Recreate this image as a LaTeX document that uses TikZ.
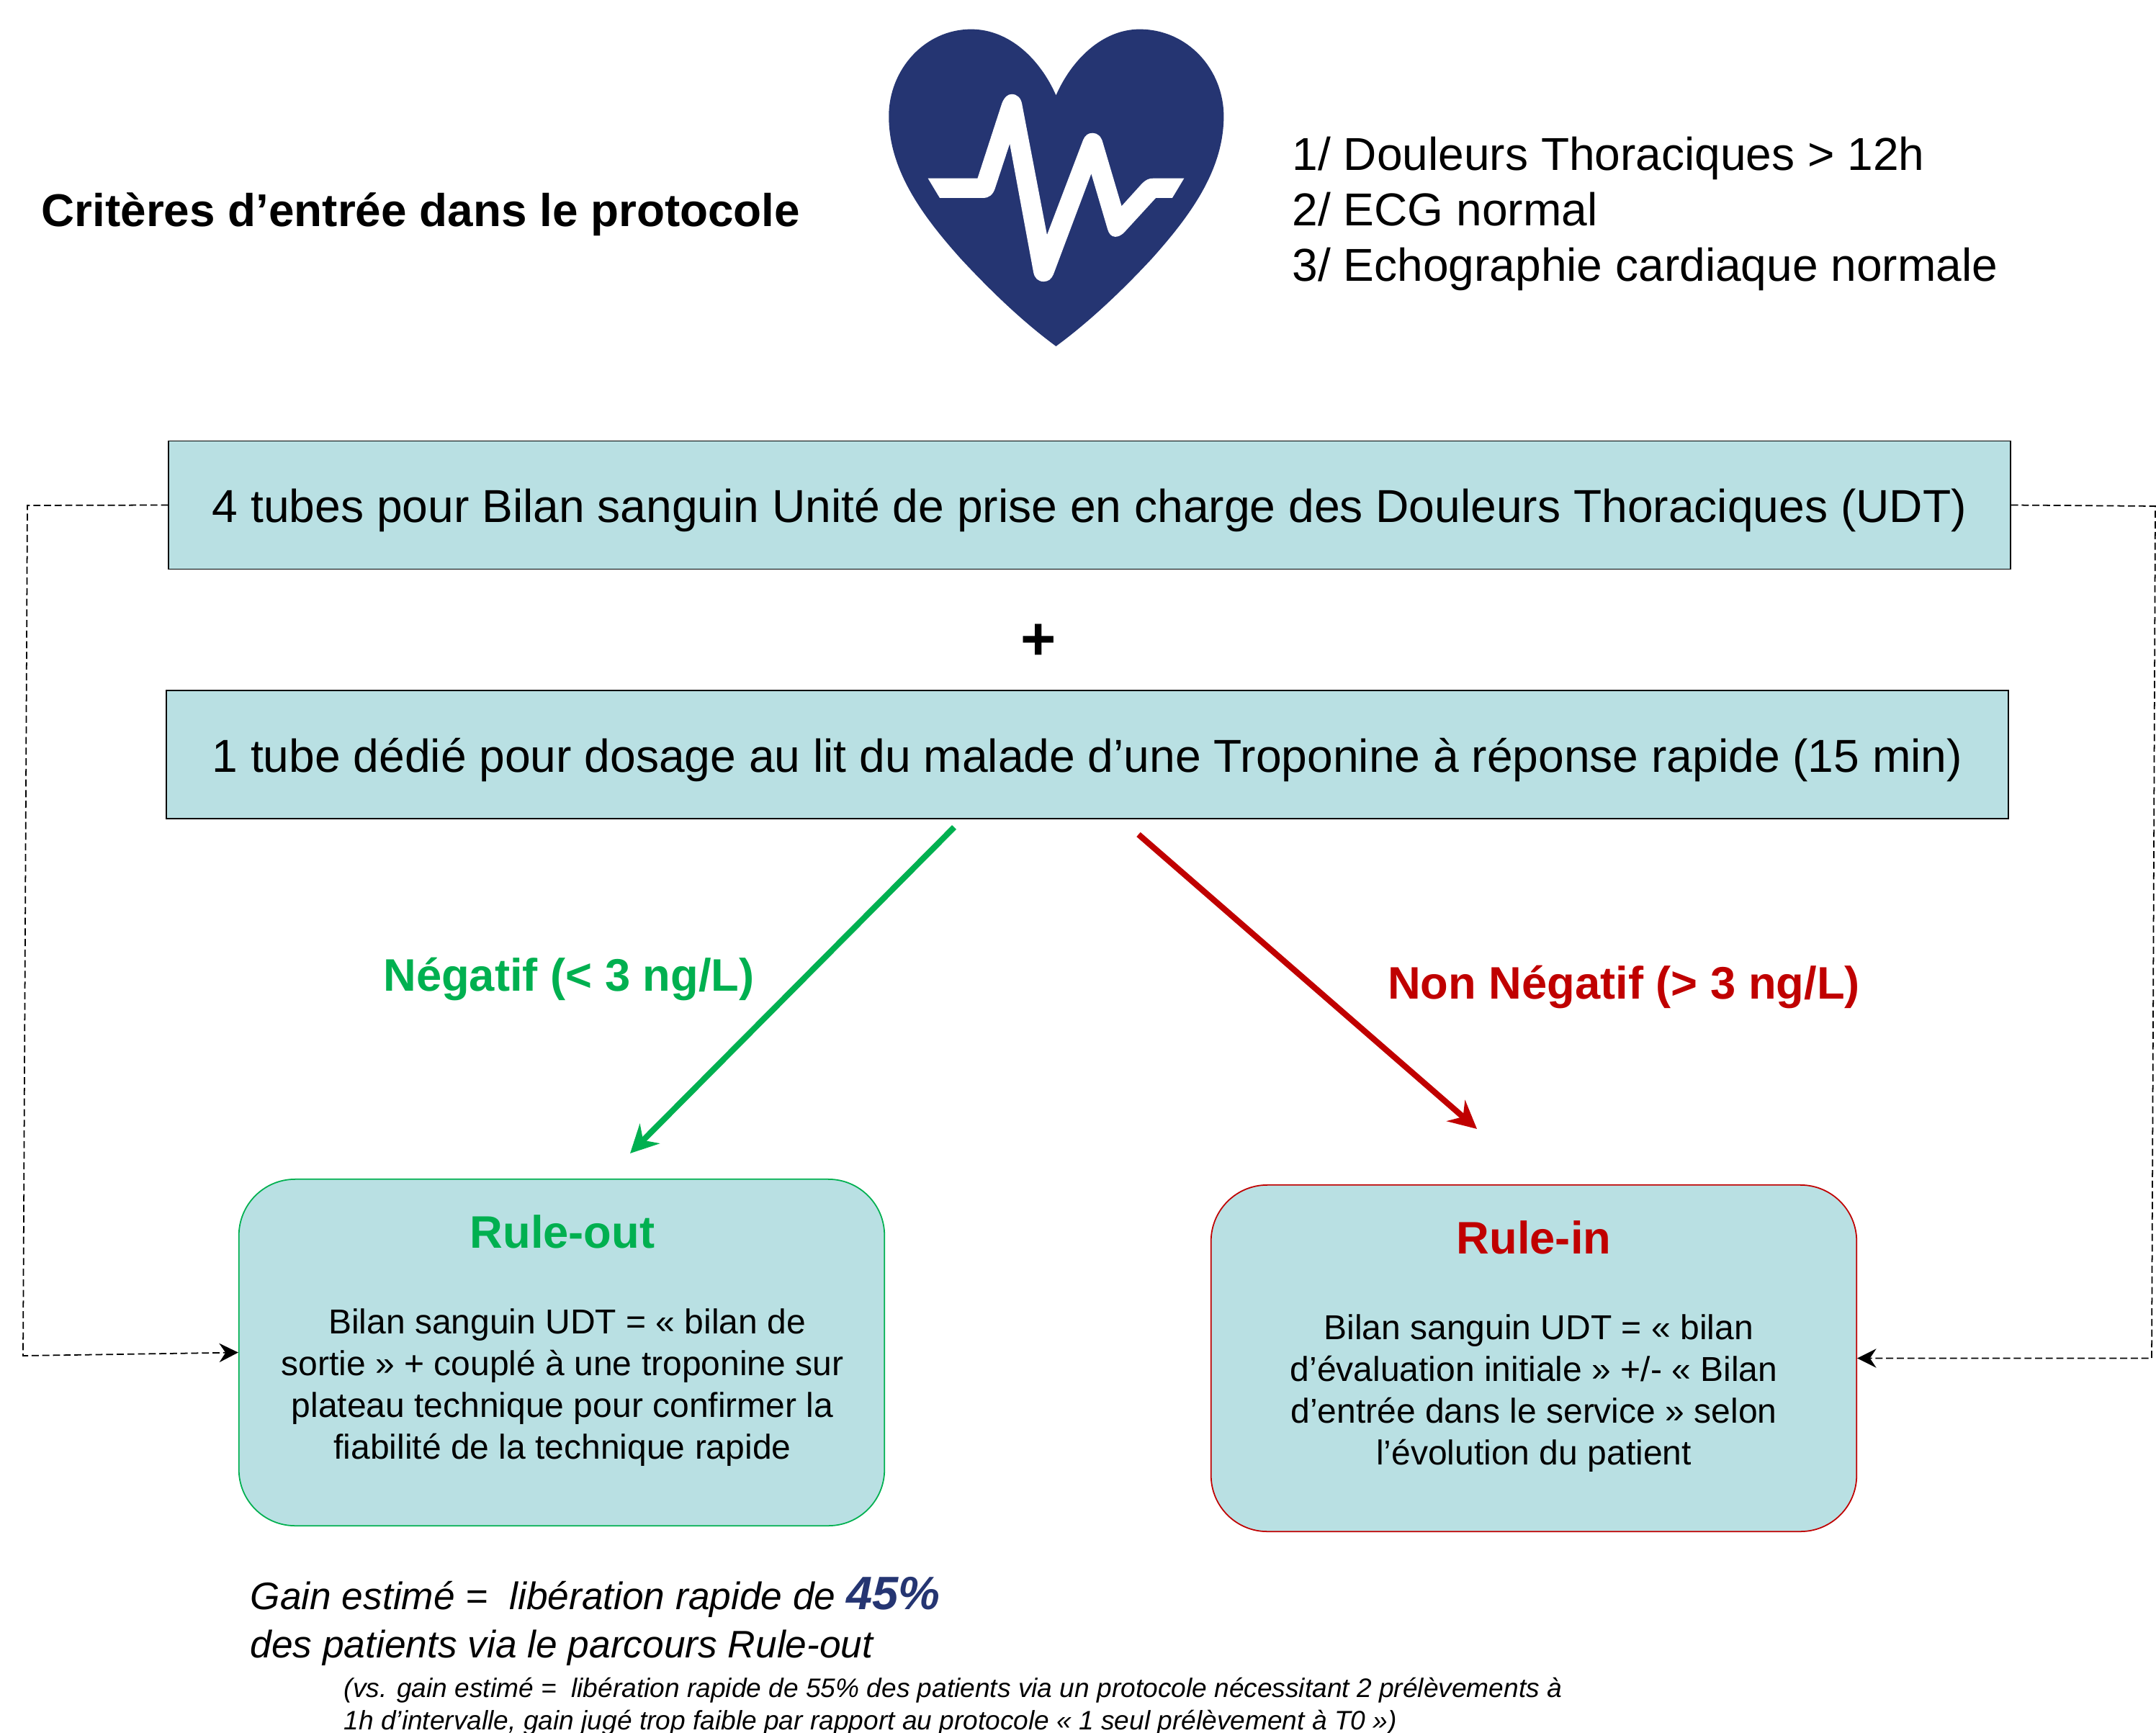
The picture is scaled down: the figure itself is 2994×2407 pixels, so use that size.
\documentclass[tikz,border=0pt]{standalone}
\usepackage{fontspec}
\setmainfont{Liberation Sans}
\usetikzlibrary{arrows.meta}
\definecolor{bleuboite}{HTML}{B9E0E3}
\definecolor{bleucoeur}{HTML}{253572}
\definecolor{vertout}{HTML}{00B050}
\definecolor{rougein}{HTML}{C00000}
\tikzset{
	tube/.style={draw=black, line width=0.5pt, fill=bleuboite, inner sep=0pt, minimum width=25.56cm, minimum height=1.78cm, text height=18.4pt, text depth=4.6pt, font=\fontsize{18.25}{23}\selectfont},
	parcours/.style={line width=0.5pt, fill=bleuboite, inner sep=0pt, rounded corners=0.78cm, minimum width=8.96cm, minimum height=4.81cm},
	titreparcours/.style={font=\fontsize{18}{21}\selectfont\bfseries},
	corps/.style={align=center, font=\fontsize{13.65}{16.45}\selectfont},
	retour/.style={dash pattern=on 2.8pt off 1.4pt, line width=0.5pt, -{Stealth[length=7.5pt, width=7.5pt, inset=2.5pt]}},
	verdict/.style={line width=2.35pt, -{Stealth[length=11pt, width=11pt, inset=3.7pt]}}
}
\begin{document}
\begin{tikzpicture}[x=0.01cm, y=-0.01cm] %Coordonnees en pixels de l'image
	\useasboundingbox (0,0) rectangle (2994,2407);
	%En-tete
	\node[anchor=west, inner sep=0pt, font=\fontsize{18.15}{21}\selectfont\bfseries] (titre) at (57,298) {Critères d’entrée dans le protocole};
	\node[anchor=west, inner sep=0pt, align=left, font=\fontsize{18.22}{21.9}\selectfont] (criteres) at (1794,297) {1/ Douleurs Thoraciques > 12h\\2/ ECG normal\\3/ Echographie cardiaque normale};
	%Coeur
	\begin{scope}[shift={(11.8cm,-0.2cm)}, x=0.0035714cm, y=-0.003333cm]
		\fill[bleucoeur] (800,338) .. controls (740,190) and (620,62) .. (470,62) .. controls (290,62) and (150,230) .. (150,425)
			.. controls (150,650) and (280,840) .. (430,1020) .. controls (560,1170) and (680,1290) .. (800,1385)
			.. controls (920,1290) and (1042,1170) .. (1172,1020) .. controls (1322,840) and (1452,650) .. (1452,425)
			.. controls (1452,230) and (1312,62) .. (1125,62) .. controls (980,62) and (860,190) .. (800,338) -- cycle;
		\fill[white] (302,684) -- (495,684) -- (590,370) .. controls (600,345) and (612,333) .. (628,333) .. controls (650,333) and (664,350) .. (668,375)
			-- (765,920) -- (905,525) .. controls (912,505) and (925,495) .. (942,495) .. controls (962,495) and (976,510) .. (982,535)
			-- (1055,800) -- (1135,705) .. controls (1150,690) and (1160,684) .. (1180,684) -- (1298,684) -- (1252,766) -- (1188,766)
			-- (1065,910) .. controls (1050,925) and (1040,928) .. (1030,928) .. controls (1015,928) and (1005,915) .. (1000,895)
			-- (937,665) -- (790,1085) .. controls (782,1105) and (770,1115) .. (752,1115) .. controls (730,1115) and (716,1100) .. (712,1075)
			-- (620,540) -- (565,720) .. controls (555,755) and (540,766) .. (515,766) -- (348,766) -- cycle;
	\end{scope}
	%Tubes
	\node[tube] (bilan) at (1513,701.5) {4 tubes pour Bilan sanguin Unité de prise en charge des Douleurs Thoraciques (UDT)};
	\node[font=\fontsize{24}{28}\selectfont\bfseries] (plus) at (1442,892) {+};
	\node[tube] (tube) at (1510,1048) {1 tube dédié pour dosage au lit du malade d’une Troponine à réponse rapide (15 min)};
	%Parcours
	\node[parcours, draw=vertout] (ruleout) at (780,1878.5) {};
	\node[parcours, draw=rougein] (rulein) at (2130,1886.5) {};
	\node[titreparcours, text=vertout] (titreout) at (781,1711) {Rule-out};
	\node[titreparcours, text=rougein] (titrein) at (2130,1719) {Rule-in};
	\node[corps] (corpsout) at (781,1927) {\ Bilan sanguin UDT = « bilan de\\sortie » + couplé à une troponine sur\\plateau technique pour confirmer la\\fiabilité de la technique rapide};
	\node[corps] (corpsin) at (2130,1935) {\ Bilan sanguin UDT = « bilan\\d’évaluation initiale » +/- « Bilan\\d’entrée dans le service » selon\\l’évolution du patient};
	%Fleches de decision
	\coordinate (negdepart) at (1325,1149);
	\coordinate (negarrivee) at (875,1602);
	\coordinate (posdepart) at (1581,1159);
	\coordinate (posarrivee) at (2051,1568);
	\draw[verdict, vertout] (negdepart) -- (negarrivee);
	\draw[verdict, rougein] (posdepart) -- (posarrivee);
	\node[titreparcours, text=vertout] (negatif) at (790,1360) {Négatif (< 3 ng/L)};
	\node[titreparcours, text=rougein] (positif) at (2255,1371) {Non Négatif (> 3 ng/L)};
	%Retours en pointilles
	\coordinate (gauchehaut) at (38,702);
	\coordinate (gauchebas) at (32,1883);
	\coordinate (droitehaut) at (2993,703);
	\coordinate (droitebas) at (2988,1886.5);
	\draw[retour] (bilan.west) -- (gauchehaut) -- (gauchebas) -- (ruleout.west);
	\draw[retour] (bilan.east) -- (droitehaut) -- (droitebas) -- (rulein.east);
	%Gain
	\node[anchor=west, inner sep=0pt, align=left, font=\fontsize{15.15}{19}\selectfont\itshape] (gain) at (347,2252) {Gain estimé = ~libération rapide de {\fontsize{18.5}{19}\selectfont\bfseries\color{bleucoeur} 45\%}\\des patients via le parcours Rule-out};
	\node[anchor=west, inner sep=0pt, align=left, font=\fontsize{10.55}{12.7}\selectfont\itshape] (versus) at (477,2370) {(vs. gain estimé = ~libération rapide de 55\% des patients via un protocole nécessitant 2 prélèvements à\\1h d’intervalle, gain jugé trop faible par rapport au protocole « 1 seul prélèvement à T0 »)};
\end{tikzpicture}
\end{document}
